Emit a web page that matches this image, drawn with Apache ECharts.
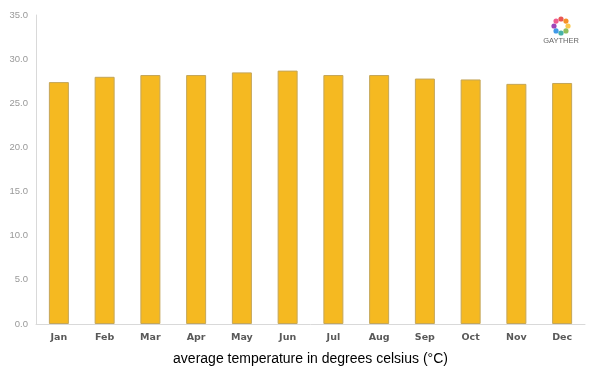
<!DOCTYPE html>
<html><head><meta charset="utf-8">
<script src="https://cdn.jsdelivr.net/npm/echarts@6/dist/echarts.min.js"></script>
<style>html,body{margin:0;padding:0;background:#fff}#c{width:600px;height:375px}</style>
</head><body><div id="c"></div>
<script>
const months = ['Jan','Feb','Mar','Apr','May','Jun','Jul','Aug','Sep','Oct','Nov','Dec'];
const avgTemp = [27.4, 28.0, 28.2, 28.2, 28.5, 28.7, 28.2, 28.2, 27.8, 27.7, 27.2, 27.3];
const yTicks = {min: 0, max: 35, interval: 5};
const xTitle = 'average temperature in degrees celsius (°C)';
const logoColors = ['#e53935','#f57c00','#fbc02d','#7cb342','#26a69a','#1e88e5','#8e24aa','#ec407a'];

const chart = echarts.init(document.getElementById('c'));
const logoDots = logoColors.map((c, i) => {
  const a = -Math.PI / 2 + i * 2 * Math.PI / logoColors.length;
  return {type: 'circle', shape: {cx: 561 + 7 * Math.cos(a), cy: 26 + 7 * Math.sin(a), r: 2.6}, style: {fill: c, opacity: 0.85}, silent: true};
});
chart.setOption({
  animation: false,
  grid: {left: 36, right: 15, top: 15, bottom: 51},
  xAxis: {
    type: 'category', data: months,
    axisLine: {lineStyle: {color: '#d9d9d9', width: 1}},
    axisTick: {show: false},
    axisLabel: {color: '#595959', fontFamily: 'DejaVu Sans', fontSize: 9.5, fontWeight: 'bold', margin: 9},
    name: xTitle, nameLocation: 'middle', nameGap: 28,
    nameTextStyle: {color: '#000', fontFamily: 'Liberation Sans', fontSize: 14}
  },
  yAxis: {
    type: 'value', min: yTicks.min, max: yTicks.max, interval: yTicks.interval,
    axisLine: {show: true, lineStyle: {color: '#d9d9d9', width: 1}},
    axisTick: {show: false},
    splitLine: {show: false},
    axisLabel: {color: '#999', fontFamily: 'Liberation Sans', fontSize: 9.5, margin: 8,
      formatter: v => v.toFixed(1)}
  },
  series: [{
    type: 'bar', data: avgTemp, barWidth: 20,
    itemStyle: {color: '#f5b921', borderColor: '#c4a659', borderWidth: 1}
  }],
  graphic: logoDots.concat([{
    type: 'text', style: {text: 'GAYTHER', x: 561, y: 41, align: 'center', verticalAlign: 'middle',
      fill: '#666', font: '7.5px "Liberation Sans"'}, silent: true
  }])
});
</script></body></html>
